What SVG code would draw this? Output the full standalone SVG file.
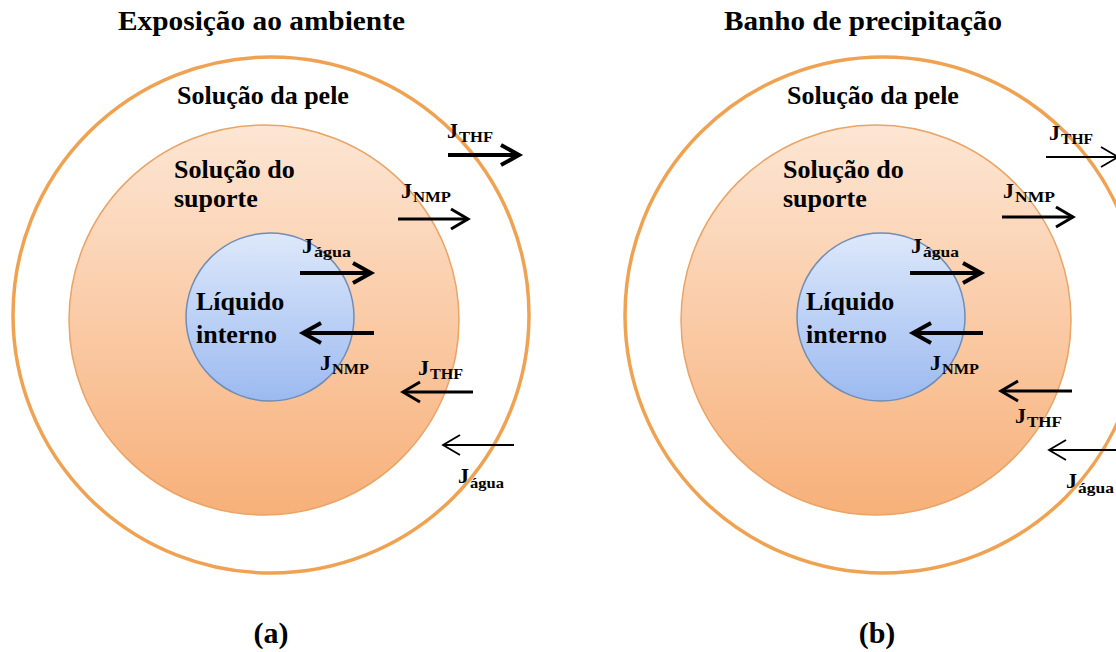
<svg xmlns="http://www.w3.org/2000/svg" width="1116" height="652" viewBox="0 0 1116 652">
<style>
.bg{fill:#fff}
.outer{fill:#fff;stroke:#EFA252;stroke-width:3.5}
.mid{fill:url(#peach);stroke:#E9A466;stroke-width:1.5}
.inner{fill:url(#blue);stroke:#6F8DB5;stroke-width:1.5}
.t{font-family:"Liberation Serif","Times New Roman",serif;font-weight:bold;fill:#000}
.title{font-size:28px}
.lbl{font-size:26px}
.cap{font-size:30px;text-anchor:middle}
.j{font-size:22px}
.s{font-size:15px}
.ln{stroke:#000;fill:none}
.w4{stroke-width:4;marker-end:url(#h4)}
.w3{stroke-width:3;marker-end:url(#h3)}
.w2{stroke-width:1.8;marker-end:url(#h2)}
</style>
<defs>
<linearGradient id="peach" x1="0" y1="0" x2="0" y2="1">
<stop offset="0" stop-color="#FDE6D4"/>
<stop offset="1" stop-color="#F7B079"/>
</linearGradient>
<linearGradient id="blue" x1="0" y1="0" x2="0" y2="1">
<stop offset="0" stop-color="#DDE8FB"/>
<stop offset="1" stop-color="#9CBAF0"/>
</linearGradient>
<marker id="h4" markerUnits="userSpaceOnUse" viewBox="-24 -14 30 28" markerWidth="30" markerHeight="28" refX="0" refY="0" orient="auto">
<path d="M-18,-10 L0,0 L-18,10" fill="none" stroke="#000" stroke-width="4"/>
</marker>
<marker id="h3" markerUnits="userSpaceOnUse" viewBox="-24 -14 30 28" markerWidth="30" markerHeight="28" refX="0" refY="0" orient="auto">
<path d="M-17,-10 L0,0 L-17,10" fill="none" stroke="#000" stroke-width="3"/>
</marker>
<marker id="h2" markerUnits="userSpaceOnUse" viewBox="-24 -14 30 28" markerWidth="30" markerHeight="28" refX="0" refY="0" orient="auto">
<path d="M-17,-10 L0,0 L-17,10" fill="none" stroke="#000" stroke-width="1.8"/>
</marker>
</defs>
<rect class="bg" x="0" y="0" width="1116" height="652"/>

<g id="panel-a">
<text class="t title" x="118" y="30" textLength="287" lengthAdjust="spacingAndGlyphs">Exposição ao ambiente</text>
<g id="a-skin">
<circle class="outer" cx="271" cy="315" r="258"/>
<text class="t lbl" x="177" y="104">Solução da pele</text>
</g>
<g id="a-support">
<circle class="mid" cx="264" cy="320" r="195"/>
<text class="t lbl" x="174" y="178">Solução do</text>
<text class="t lbl" x="174" y="207">suporte</text>
</g>
<g id="a-internal">
<circle class="inner" cx="270" cy="317" r="84"/>
<text class="t lbl" x="196" y="310">Líquido</text>
<text class="t lbl" x="196" y="343">interno</text>
</g>
<text class="t cap" x="271" y="643">(a)</text>
</g>

<g id="panel-b">
<text class="t title" x="724" y="30" textLength="278" lengthAdjust="spacingAndGlyphs">Banho de precipitação</text>
<g id="b-skin">
<circle class="outer" cx="883" cy="315" r="258"/>
<text class="t lbl" x="787" y="104">Solução da pele</text>
</g>
<g id="b-support">
<circle class="mid" cx="876" cy="320" r="195"/>
<text class="t lbl" x="783" y="178">Solução do</text>
<text class="t lbl" x="783" y="207">suporte</text>
</g>
<g id="b-internal">
<circle class="inner" cx="881" cy="317" r="84"/>
<text class="t lbl" x="806" y="310">Líquido</text>
<text class="t lbl" x="806" y="343">interno</text>
</g>
<text class="t cap" x="877" y="643">(b)</text>
</g>

<g id="connectors">
<line class="ln w4" x1="448" y1="155" x2="519" y2="155"/>
<line class="ln w3" x1="398" y1="219" x2="468" y2="219"/>
<line class="ln w4" x1="300" y1="273" x2="371" y2="273"/>
<line class="ln w4" x1="374" y1="333" x2="303" y2="333"/>
<line class="ln w3" x1="473" y1="392" x2="403" y2="392"/>
<line class="ln w2" x1="514" y1="445" x2="443" y2="445"/>

<line class="ln w2" x1="1046" y1="157" x2="1118" y2="157"/>
<line class="ln w3" x1="1002" y1="217" x2="1073" y2="217"/>
<line class="ln w4" x1="910" y1="273" x2="981" y2="273"/>
<line class="ln w4" x1="983" y1="333" x2="913" y2="333"/>
<line class="ln w3" x1="1072" y1="391" x2="1001" y2="391"/>
<line class="ln w2" x1="1118" y1="450" x2="1049" y2="450"/>
</g>

<g id="flux-labels">
<text class="t j" x="447" y="138">J</text><text class="t s" x="459" y="142" textLength="34" lengthAdjust="spacingAndGlyphs">THF</text>
<text class="t j" x="401" y="198">J</text><text class="t s" x="413" y="202" textLength="38" lengthAdjust="spacingAndGlyphs">NMP</text>
<text class="t j" x="302" y="253">J</text><text class="t s" x="314" y="257" textLength="37" lengthAdjust="spacingAndGlyphs">água</text>
<text class="t j" x="320" y="370">J</text><text class="t s" x="332" y="374" textLength="37" lengthAdjust="spacingAndGlyphs">NMP</text>
<text class="t j" x="418" y="375">J</text><text class="t s" x="430" y="379" textLength="33" lengthAdjust="spacingAndGlyphs">THF</text>
<text class="t j" x="458" y="483">J</text><text class="t s" x="470" y="488" textLength="34" lengthAdjust="spacingAndGlyphs">água</text>

<text class="t j" x="1049" y="140">J</text><text class="t s" x="1061" y="144" textLength="32" lengthAdjust="spacingAndGlyphs">THF</text>
<text class="t j" x="1003" y="198">J</text><text class="t s" x="1015" y="202" textLength="40" lengthAdjust="spacingAndGlyphs">NMP</text>
<text class="t j" x="911" y="253">J</text><text class="t s" x="923" y="257" textLength="36" lengthAdjust="spacingAndGlyphs">água</text>
<text class="t j" x="930" y="370">J</text><text class="t s" x="942" y="374" textLength="37" lengthAdjust="spacingAndGlyphs">NMP</text>
<text class="t j" x="1015" y="423">J</text><text class="t s" x="1027" y="427" textLength="35" lengthAdjust="spacingAndGlyphs">THF</text>
<text class="t j" x="1066" y="488">J</text><text class="t s" x="1078" y="493" textLength="36" lengthAdjust="spacingAndGlyphs">água</text>
</g>
</svg>
